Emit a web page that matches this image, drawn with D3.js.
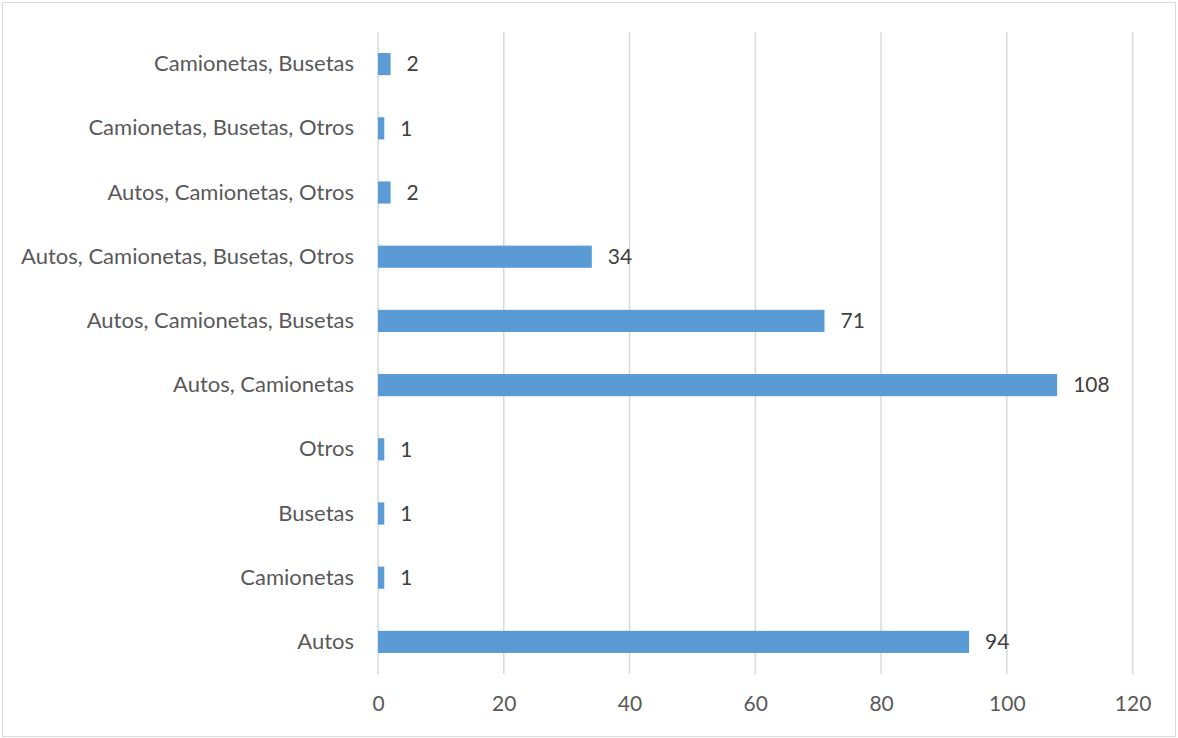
<!DOCTYPE html>
<html><head><meta charset="utf-8">
<script src="https://cdn.jsdelivr.net/npm/d3@7"></script>
<style>body{margin:0;background:#fff}svg{display:block}</style>
</head><body>
<script>
const categories = ["Autos","Camionetas","Busetas","Otros","Autos, Camionetas","Autos, Camionetas, Busetas","Autos, Camionetas, Busetas, Otros","Autos, Camionetas, Otros","Camionetas, Busetas, Otros","Camionetas, Busetas"];
const values = [94,1,1,1,108,71,34,2,1,2];
const xTicks = [0,20,40,60,80,100,120];

const W=1178,H=738;
const svg=d3.select("body").append("svg").attr("width",W).attr("height",H);
svg.append("rect").attr("x",2.5).attr("y",2.5).attr("width",W-5).attr("height",H-4).attr("fill","#fff").attr("stroke","#d9d9d9").attr("stroke-width",1);

const x=d3.scaleLinear().domain([0,120]).range([378,1132.6]);
const y=d3.scaleBand().domain(categories.slice().reverse()).range([32,674]).paddingInner(0.655).paddingOuter(0.3275);
const font="Lato, 'Open Sans', sans-serif";

const gx=svg.append("g").attr("transform","translate(0,674)").call(d3.axisBottom(x).tickValues(xTicks).tickSize(0).tickPadding(22));
gx.select(".domain").remove();
gx.selectAll("text").attr("font-family",font).attr("font-size",21).attr("fill","#595959");

svg.append("g").selectAll("line").data(xTicks).join("line")
 .attr("x1",d=>x(d)).attr("x2",d=>x(d)).attr("y1",32).attr("y2",674)
 .attr("stroke","#d9d9d9").attr("stroke-width",1.5);

const gy=svg.append("g").attr("transform","translate(378,0)").call(d3.axisLeft(y).tickSize(0).tickPadding(24));
gy.select(".domain").remove();
gy.selectAll("text").attr("font-family",font).attr("font-size",22).attr("fill","#595959");

const data=categories.map((c,i)=>({c,v:values[i]}));
svg.append("g").selectAll("rect").data(data).join("rect")
 .attr("x",x(0)).attr("y",d=>y(d.c)).attr("width",d=>x(d.v)-x(0)).attr("height",y.bandwidth()).attr("fill","#5b9bd5");
svg.append("g").selectAll("text").data(data).join("text")
 .attr("x",d=>x(d.v)+16).attr("y",d=>y(d.c)+y.bandwidth()/2).attr("dy","0.35em")
 .attr("font-family",font).attr("font-size",21).attr("fill","#404040").text(d=>d.v);
</script>
</body></html>
